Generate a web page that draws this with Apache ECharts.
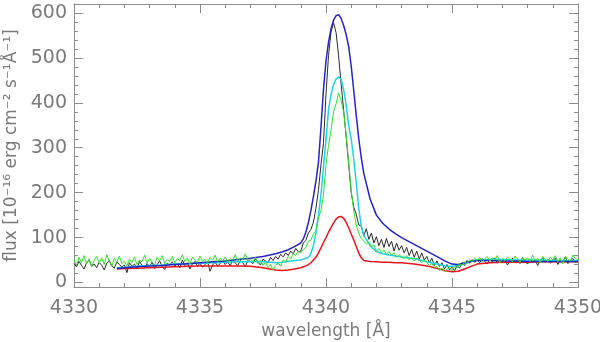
<!DOCTYPE html>
<html>
<head>
<meta charset="utf-8">
<script src="https://cdn.jsdelivr.net/npm/echarts@6/dist/echarts.min.js"></script>
<style>html,body{margin:0;padding:0;background:#fff}#chart{width:600px;height:342px}</style>
</head>
<body>
<div id="chart"></div>
<script>
// observed spectra, sampled every 0.1 A from 4330
const specStart = 4330
const specStep = 0.1
const blackFlux = [
  42, 35, 47, 38, 30, 44, 50, 36, 41, 33,
  45, 38, 28, 43, 49, 37, 32, 46, 40, 34,
  39, 22, 44, 36, 41, 30, 47, 38, 33, 42,
  36, 45, 31, 40, 48, 35, 29, 43, 39, 46,
  37, 42, 33, 50, 38, 44, 30, 41, 47, 36,
  43, 34, 40, 46, 25, 39, 45, 37, 42, 48,
  40, 46, 37, 51, 43, 38, 49, 44, 35, 50,
  47, 42, 53, 45, 39, 52, 48, 44, 56, 49,
  58, 52, 63, 57, 66, 60, 70, 64, 76, 68,
  70, 88, 94, 110, 118, 134, 165, 205, 262, 310,
  420, 505, 558, 578, 556, 505, 442, 384, 325, 262,
  200, 168, 152, 128, 126, 104, 120, 96, 110, 88,
  102, 82, 96, 78, 98, 80, 92, 70, 88, 72,
  82, 66, 78, 60, 74, 56, 70, 52, 66, 50,
  58, 44, 54, 38, 48, 36, 44, 30, 40, 28,
  34, 26, 38, 32, 44, 38, 49, 43, 51, 45,
  50, 44, 53, 47, 41, 52, 46, 55, 43, 49,
  45, 51, 39, 48, 54, 44, 50, 42, 56, 47,
  41, 52, 46, 50, 38, 49, 55, 45, 51, 43,
  48, 54, 40, 50, 46, 57, 42, 49, 53, 45,
  48
]
const greenFlux = [
  50, 38, 56, 44, 60, 41, 53, 35, 49, 58,
  43, 55, 40, 62, 47, 36, 54, 45, 59, 42,
  48, 37, 52, 44, 57, 40, 50, 46, 61, 43,
  54, 45, 39, 56, 48, 60, 42, 51, 47, 58,
  44, 53, 49, 62, 46, 55, 41, 57, 50, 45,
  59, 47, 52, 43, 56, 50, 61, 46, 54, 48,
  57, 45, 53, 49, 62, 47, 55, 51, 64, 48,
  52, 46, 56, 42, 50, 38, 45, 33, 40, 28,
  38, 44, 36, 50, 46, 58, 52, 64, 60, 70,
  66, 74, 78, 92, 94, 108, 115, 145, 160, 195,
  262, 305, 340, 380, 398, 422, 405, 380, 328, 268,
  205, 160, 128, 110, 98, 92, 86, 90, 80, 84,
  70, 76, 66, 72, 63, 69, 60, 66, 56, 62,
  57, 53, 60, 50, 56, 48, 54, 50, 44, 50,
  45, 38, 42, 34, 36, 27, 32, 24, 30, 33,
  26, 36, 32, 42, 38, 46, 42, 51, 46, 54,
  49, 56, 45, 53, 58, 47, 55, 50, 60, 44,
  53, 48, 57, 51, 46, 59, 52, 45, 56, 50,
  55, 47, 61, 49, 54, 44, 58, 51, 47, 57,
  50, 60, 46, 55, 42, 58, 52, 48, 61, 53,
  50
]

// model profiles
const modelWave = [
  4331.7, 4332, 4332.5, 4333, 4333.5, 4334, 4334.5, 4335, 4335.5, 4336,
  4336.5, 4337, 4337.5, 4338, 4338.25, 4338.5, 4338.75, 4339, 4339.1, 4339.2,
  4339.3, 4339.4, 4339.5, 4339.6, 4339.7, 4339.8, 4339.9, 4340.0, 4340.1, 4340.2,
  4340.3, 4340.4, 4340.5, 4340.6, 4340.7, 4340.8, 4340.9, 4341.0, 4341.1, 4341.2,
  4341.3, 4341.4, 4341.5, 4341.75, 4342, 4342.25, 4342.5, 4342.75, 4343, 4343.5,
  4344, 4344.5, 4344.75, 4345, 4345.25, 4345.5, 4345.75, 4346, 4346.5, 4347,
  4347.5, 4348, 4348.5, 4349, 4349.5, 4350
]
const blueFlux = [
  31, 33, 35, 37, 38, 40, 42, 44, 46, 48,
  51, 54, 58, 64, 68, 73, 80, 88, 97, 112,
  133, 160, 191, 225, 267, 345, 430, 493, 535, 565,
  584, 594, 596, 588, 572, 552, 525, 482, 428, 372,
  320, 278, 243, 186, 150, 132, 119, 109, 100, 85,
  70, 55, 47, 41, 40, 44, 47, 49, 49, 48,
  48, 47, 47, 47, 47, 47
]
const cyanFlux = [
  33, 34, 36, 38, 39, 41, 42, 43, 44, 45,
  46, 47, 46, 44, 45, 47, 49, 50, 52, 54,
  56, 64, 82, 110, 150, 195, 258, 318, 385, 418,
  440, 453, 458, 452, 430, 395, 350, 320, 275, 222,
  165, 125, 105, 82, 69, 64, 61, 59, 57, 53,
  46, 40, 37, 36, 38, 42, 47, 50, 51, 51,
  50, 50, 50, 49, 49, 49
]
const redFlux = [
  30, 31, 32, 33, 34, 35, 36, 37, 37, 37,
  37, 36, 33, 28, 27, 28, 30, 33, 35, 37,
  40, 44, 50, 56, 66, 77, 89, 100, 112, 122,
  132, 141, 146, 147, 143, 134, 122, 108, 95, 80,
  66, 55, 49, 47, 46, 45, 45, 44, 44, 41,
  37, 30, 26, 24, 25, 30, 36, 41, 44, 45,
  45, 45, 46, 46, 46, 46
]

const yMajorTicks = [0, 100, 200, 300, 400, 500, 600]
const yMinorTicks = []
for (let v = 0; v <= 620; v += 20) yMinorTicks.push(v)

const spec = arr => arr.map((v, i) => [+(specStart + i * specStep).toFixed(2), v])
const model = arr => arr.map((v, i) => [modelWave[i], v])

const axisGray = '#8c8c8c'
const textGray = '#7a7a7a'
const font = 'DejaVu Sans'

const myChart = echarts.init(document.querySelector('#chart'))

const xBase = {
  type: 'value', min: 4330, max: 4350, interval: 5,
  axisLine: { show: true, onZero: false, lineStyle: { color: axisGray, width: 1 } },
  axisTick: { inside: true, length: 9, lineStyle: { color: axisGray } },
  minorTick: { show: true, splitNumber: 5, length: 4, lineStyle: { color: axisGray } },
  splitLine: { show: false }
}
const yBase = {
  type: 'value', min: -10, max: 620,
  axisLine: { show: true, onZero: false, lineStyle: { color: axisGray, width: 1 } },
  splitLine: { show: false }
}

myChart.setOption({
  animation: false,
  grid: { left: 74, right: 22, top: 4, bottom: 55, outerBoundsMode: 'none' },
  xAxis: [
    { ...xBase, position: 'bottom',
      axisLabel: { color: textGray, fontSize: 19, fontFamily: font, margin: 12, formatter: v => String(v) },
      name: 'wavelength [Å]', nameLocation: 'middle', nameGap: 34,
      nameTextStyle: { color: textGray, fontSize: 17, fontFamily: font } },
    { ...xBase, position: 'top', axisLabel: { show: false } }
  ],
  yAxis: [
    { ...yBase, position: 'left',
      axisTick: { inside: true, length: 9, customValues: yMajorTicks, lineStyle: { color: axisGray } },
      axisLabel: { color: textGray, fontSize: 19, fontFamily: font, margin: 7, customValues: yMajorTicks },
      name: 'flux [10⁻¹⁶ erg cm⁻² s⁻¹Å⁻¹]', nameLocation: 'middle', nameGap: 48,
      nameTextStyle: { color: textGray, fontSize: 17, fontFamily: font } },
    { ...yBase, position: 'left', offset: 0,
      axisTick: { inside: true, length: 4, customValues: yMinorTicks, lineStyle: { color: axisGray } },
      axisLabel: { show: false } },
    { ...yBase, position: 'right', offset: 0,
      axisTick: { inside: true, length: 9, customValues: yMajorTicks, lineStyle: { color: axisGray } },
      axisLabel: { show: false } },
    { ...yBase, position: 'right', offset: 0,
      axisTick: { inside: true, length: 4, customValues: yMinorTicks, lineStyle: { color: axisGray } },
      axisLabel: { show: false } }
  ],
  series: [
    { name: 'observed', type: 'line', data: spec(blackFlux), showSymbol: false,
      lineStyle: { color: '#2a2a2a', width: 1 }, z: 2 },
    { name: 'model red', type: 'line', data: model(redFlux), showSymbol: false,
      lineStyle: { color: '#e8141c', width: 1.5 }, z: 3 },
    { name: 'model cyan', type: 'line', data: model(cyanFlux), showSymbol: false,
      lineStyle: { color: '#1ed2e6', width: 1.5 }, z: 3 },
    { name: 'model blue', type: 'line', data: model(blueFlux), showSymbol: false,
      lineStyle: { color: '#2424c0', width: 1.5 }, z: 4 },
    { name: 'observed green', type: 'line', data: spec(greenFlux), showSymbol: false,
      lineStyle: { color: '#2fe02a', width: 1 }, z: 5 }
  ]
})
</script>
</body>
</html>
